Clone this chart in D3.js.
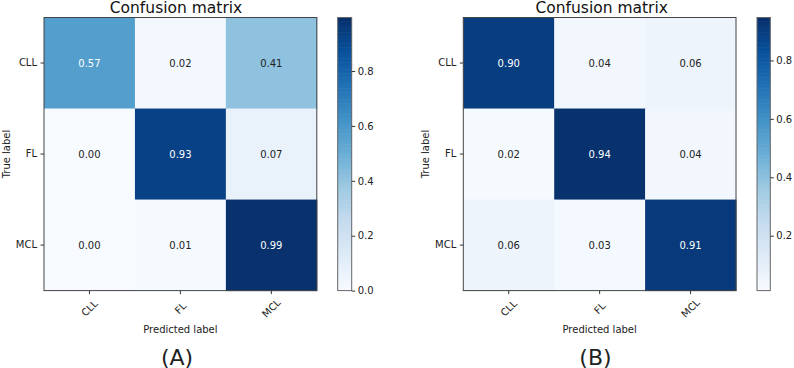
<!DOCTYPE html>
<html>
<head>
<meta charset="utf-8">
<script src="https://cdn.jsdelivr.net/npm/d3@7"></script>
<style>
  html, body { margin: 0; padding: 0; background: #fff; }
  svg { display: block; }
  text { font-family: "DejaVu Sans", sans-serif; }
</style>
</head>
<body>
<svg id="chart" width="794" height="368"></svg>
<script>
// ---- data ----
const classes = ["CLL", "FL", "MCL"];
const matrixA = [
  [0.57, 0.02, 0.41],
  [0.00, 0.93, 0.07],
  [0.00, 0.01, 0.99]
];
const matrixB = [
  [0.90, 0.04, 0.06],
  [0.02, 0.94, 0.04],
  [0.06, 0.03, 0.91]
];
const colorRangeA = [0.0, 0.995];
const colorRangeB = [0.012, 0.947];
const cbarTicksA = [0.0, 0.2, 0.4, 0.6, 0.8];
const cbarTicksB = [0.2, 0.4, 0.6, 0.8];
const titleText = "Confusion matrix";
const xLabelText = "Predicted label";
const yLabelText = "True label";
const panelLabels = ["(A)", "(B)"];

// matplotlib "Blues" (linear segmented over ColorBrewer 9 colours)
const bluesStops = ["#f7fbff","#deebf7","#c6dbef","#9ecae1","#6baed6","#4292c6","#2171b5","#08519c","#08306b"];
const blues = d3.scaleLinear()
  .domain(d3.range(9).map(i => i / 8))
  .range(bluesStops)
  .interpolate(d3.interpolateRgb)
  .clamp(true);

const svg = d3.select("#chart");

function drawPanel(cfg) {
  const { data, cRange, cTicks, mx0, mx1, my0, my1, cbx0, cbx1, titleX, labelX, panelLabel } = cfg;
  const g = svg.append("g");

  const x = d3.scaleBand().domain(classes).range([mx0, mx1]);
  const y = d3.scaleBand().domain(classes).range([my0, my1]);
  const norm = d3.scaleLinear().domain(cRange).range([0, 1]).clamp(true);
  const color = v => blues(norm(v));
  const thresh = d3.max(data.flat()) / 2;

  const cells = [];
  data.forEach((row, i) => row.forEach((v, j) => cells.push({ r: classes[i], c: classes[j], v })));

  g.selectAll("rect.cell").data(cells).join("rect")
    .attr("class", "cell")
    .attr("x", d => x(d.c))
    .attr("y", d => y(d.r))
    .attr("width", x.bandwidth() + 0.5)
    .attr("height", y.bandwidth() + 0.5)
    .attr("fill", d => color(d.v));

  g.selectAll("text.val").data(cells).join("text")
    .attr("class", "val")
    .attr("x", d => x(d.c) + x.bandwidth() / 2)
    .attr("y", d => y(d.r) + y.bandwidth() / 2)
    .attr("text-anchor", "middle")
    .attr("dominant-baseline", "central")
    .attr("font-size", 10)
    .attr("fill", d => d.v > thresh ? "#ffffff" : "#222222")
    .text(d => d.v.toFixed(2));

  // frame
  g.append("rect")
    .attr("x", mx0).attr("y", my0)
    .attr("width", mx1 - mx0).attr("height", my1 - my0)
    .attr("fill", "none").attr("stroke", "#444").attr("stroke-width", 1);

  // y axis
  const yAxis = d3.axisLeft(y).tickSize(3.5).tickPadding(3.5);
  const ya = g.append("g").attr("transform", `translate(${mx0},0)`).call(yAxis);
  ya.select(".domain").remove();
  ya.selectAll("line").attr("stroke", "#333");
  ya.selectAll("text").attr("font-size", 10).attr("fill", "#222").attr("font-family", "DejaVu Sans");

  // x axis
  const xAxis = d3.axisBottom(x).tickSize(3.5).tickPadding(3.5);
  const xa = g.append("g").attr("transform", `translate(0,${my1})`).call(xAxis);
  xa.select(".domain").remove();
  xa.selectAll("line").attr("stroke", "#333");
  xa.selectAll("text")
    .attr("font-size", 10).attr("fill", "#222").attr("font-family", "DejaVu Sans")
    .attr("y", null).attr("dy", null)
    .attr("text-anchor", "middle")
    .attr("dominant-baseline", "central")
    .attr("transform", "translate(0,17.6) rotate(-45)");

  // axis labels
  g.append("text")
    .attr("x", (mx0 + mx1) / 2).attr("y", 332.5)
    .attr("text-anchor", "middle").attr("font-size", 10).attr("fill", "#222")
    .text(xLabelText);
  g.append("text")
    .attr("transform", `translate(${mx0 - 34.5},${(my0 + my1) / 2}) rotate(-90)`)
    .attr("text-anchor", "middle").attr("font-size", 10).attr("fill", "#222")
    .text(yLabelText);

  // title
  g.append("text")
    .attr("x", titleX).attr("y", 13)
    .attr("text-anchor", "middle")
    .attr("font-family", "Liberation Sans, Arial, sans-serif")
    .attr("font-size", 15.5).attr("fill", "#111")
    .text(titleText);

  // panel label
  g.append("text")
    .attr("x", labelX).attr("y", 364.5)
    .attr("text-anchor", "middle")
    .attr("font-family", "Liberation Sans, Arial, sans-serif")
    .attr("font-size", 22).attr("fill", "#222")
    .text(panelLabel);

  // colorbar
  const cy = d3.scaleLinear().domain(cRange).range([my1, my0]);
  const n = 200;
  const steps = d3.range(n).map(i => cRange[0] + (cRange[1] - cRange[0]) * i / n);
  const stepH = (my1 - my0) / n;
  g.selectAll("rect.cb").data(steps).join("rect")
    .attr("class", "cb")
    .attr("x", cbx0).attr("width", cbx1 - cbx0)
    .attr("y", d => cy(d) - stepH - 0.3)
    .attr("height", stepH + 0.6)
    .attr("fill", d => color(d + (cRange[1] - cRange[0]) / n / 2));
  g.append("rect")
    .attr("x", cbx0).attr("y", my0)
    .attr("width", cbx1 - cbx0).attr("height", my1 - my0)
    .attr("fill", "none").attr("stroke", "#666").attr("stroke-width", 1);
  const cAxis = d3.axisRight(cy).tickValues(cTicks).tickFormat(d3.format(".1f")).tickSize(3.5).tickPadding(2.5);
  const ca = g.append("g").attr("transform", `translate(${cbx1},0)`).call(cAxis);
  ca.select(".domain").remove();
  ca.selectAll("line").attr("stroke", "#333");
  ca.selectAll("text").attr("font-size", 10).attr("fill", "#222").attr("font-family", "DejaVu Sans");
}

drawPanel({
  data: matrixA, cRange: colorRangeA, cTicks: cbarTicksA,
  mx0: 44, mx1: 316.8, my0: 17.5, my1: 290.6,
  cbx0: 337.7, cbx1: 351.7, titleX: 176, labelX: 177, panelLabel: panelLabels[0]
});
drawPanel({
  data: matrixB, cRange: colorRangeB, cTicks: cbarTicksB,
  mx0: 463.3, mx1: 736, my0: 17.5, my1: 290.6,
  cbx0: 757, cbx1: 770.3, titleX: 601.7, labelX: 595.5, panelLabel: panelLabels[1]
});
</script>
</body>
</html>
